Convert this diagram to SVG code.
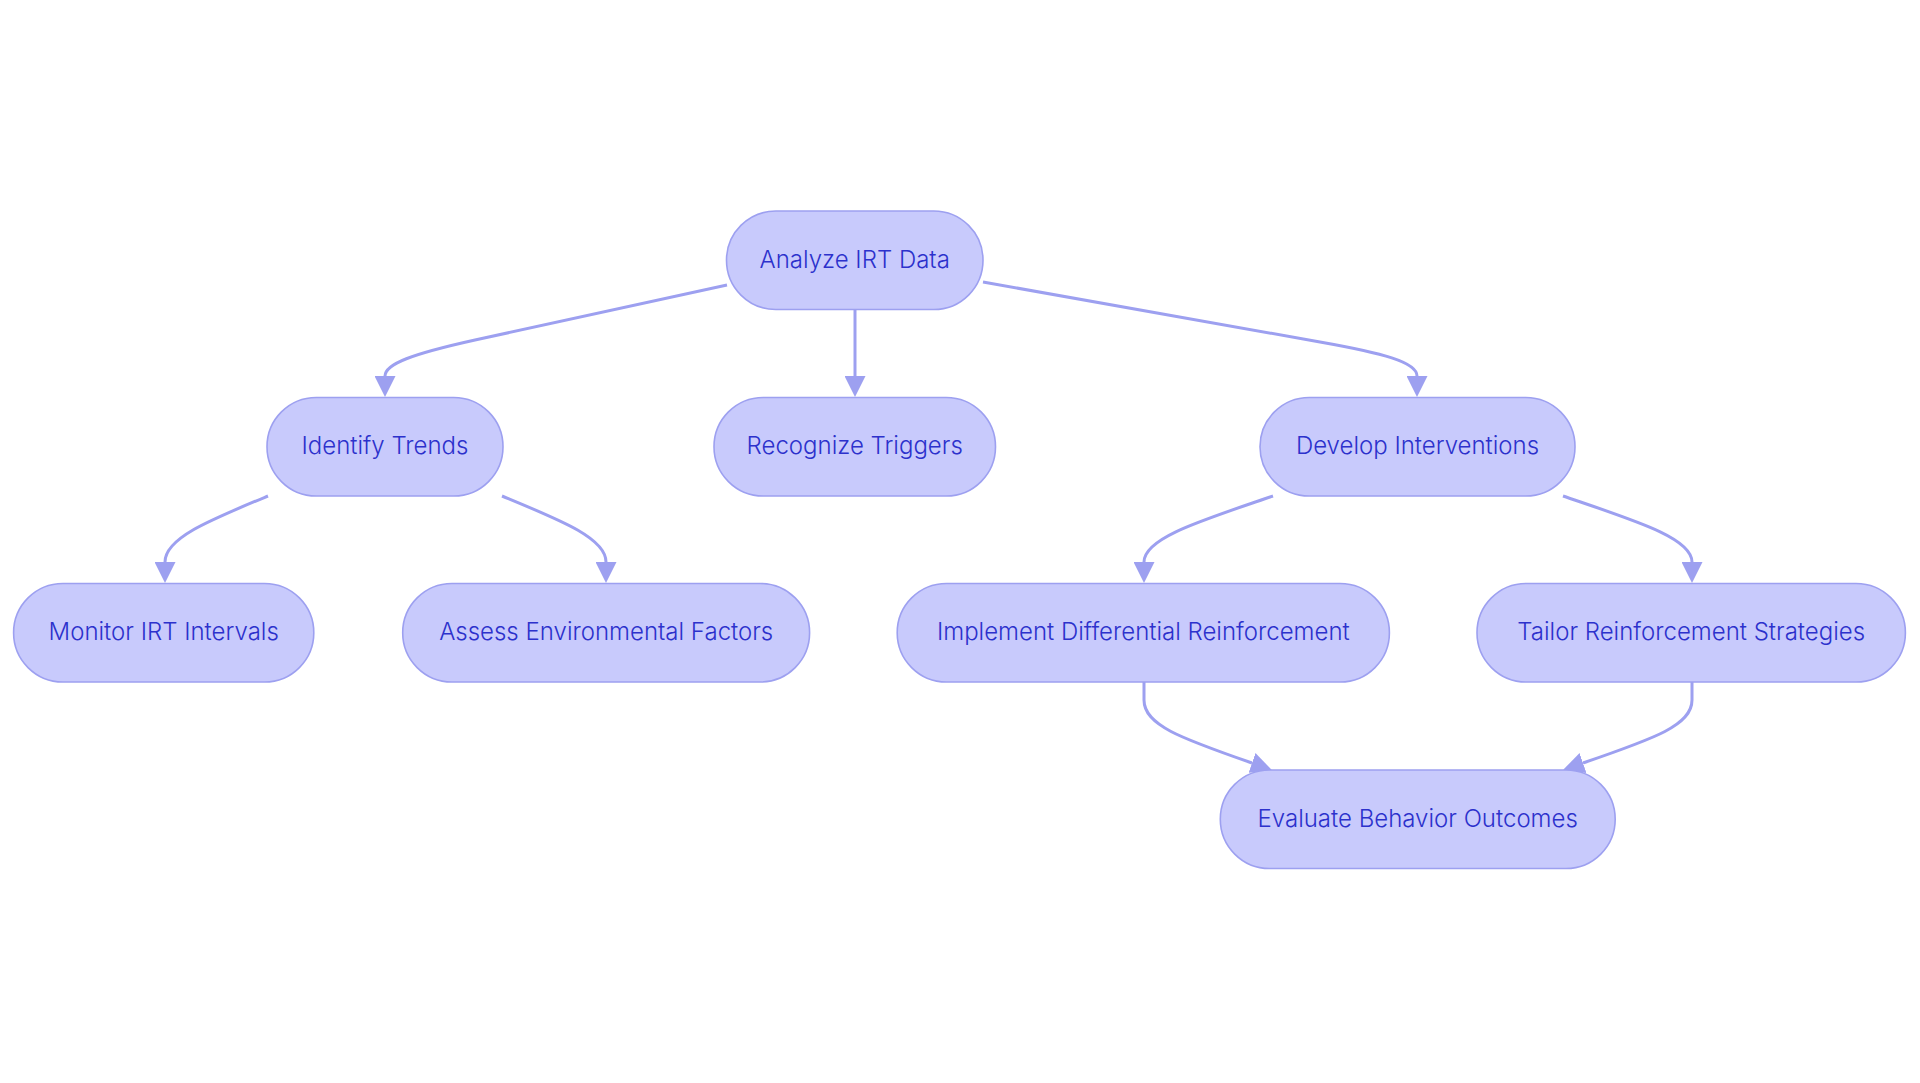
<svg xmlns="http://www.w3.org/2000/svg" width="1920" height="1083" viewBox="0 0 1920 1083">
<defs>
<style>
.node rect{fill:#c8cafc;stroke:#9da0f0;stroke-width:1.6}
.node text{font-family:Inter,"Noto Sans","Liberation Sans",sans-serif;font-size:24px;font-weight:300;fill:#2c31cc;text-anchor:middle}
.edge{fill:none;stroke:#9da0f0;stroke-width:3;marker-end:url(#arrow)}
</style>
<marker id="arrow" viewBox="0 0 10 10" refX="0" refY="5" markerUnits="userSpaceOnUse" markerWidth="21" markerHeight="21" orient="auto">
<path d="M0,0 L10,5 L0,10 z" fill="#9da0f0"/>
</marker>
</defs>
<rect width="1920" height="1083" fill="#ffffff"/>
<g id="connectors">
<path class="edge" d="M727,285 L475,340 C412,354 385,364 385,376"/>
<path class="edge" d="M855,309 L855,376"/>
<path class="edge" d="M983,282 L1320,342 C1382,353 1417,362 1417,376"/>
<path class="edge" d="M268,496 C210,520 165,538 165,562"/>
<path class="edge" d="M502,496 C560,520 606,538 606,562"/>
<path class="edge" d="M1273,496 C1200,521 1144,538 1144,562"/>
<path class="edge" d="M1563,496 C1636,521 1692,538 1692,562"/>
<path class="edge" d="M1144,682 L1144,700 C1144,725 1180,738 1252,763"/>
<path class="edge" d="M1692,682 L1692,700 C1692,725 1656,738 1583,763"/>
</g>
<g id="node-analyze" class="node">
<rect x="726.5" y="211" width="256.5" height="98.5" rx="49.25"/>
<text x="854.7" y="267.5">Analyze IRT Data</text>
</g>
<g id="node-identify" class="node">
<rect x="267" y="397.5" width="236" height="98.5" rx="49.25"/>
<text x="385" y="454">Identify Trends</text>
</g>
<g id="node-recognize" class="node">
<rect x="714" y="397.5" width="281.5" height="98.5" rx="49.25"/>
<text x="854.7" y="454">Recognize Triggers</text>
</g>
<g id="node-develop" class="node">
<rect x="1260" y="397.5" width="315" height="98.5" rx="49.25"/>
<text x="1417.5" y="454">Develop Interventions</text>
</g>
<g id="node-monitor" class="node">
<rect x="13.6" y="583.5" width="300.2" height="98.5" rx="49.25"/>
<text x="163.7" y="640">Monitor IRT Intervals</text>
</g>
<g id="node-assess" class="node">
<rect x="402.7" y="583.5" width="406.9" height="98.5" rx="49.25"/>
<text x="606.2" y="640">Assess Environmental Factors</text>
</g>
<g id="node-implement" class="node">
<rect x="897.2" y="583.5" width="492.2" height="98.5" rx="49.25"/>
<text x="1143.3" y="640">Implement Differential Reinforcement</text>
</g>
<g id="node-tailor" class="node">
<rect x="1477" y="583.5" width="428.4" height="98.5" rx="49.25"/>
<text x="1691.2" y="640">Tailor Reinforcement Strategies</text>
</g>
<g id="node-evaluate" class="node">
<rect x="1220.3" y="770" width="394.9" height="98.5" rx="49.25"/>
<text x="1417.7" y="826.5">Evaluate Behavior Outcomes</text>
</g>
</svg>
